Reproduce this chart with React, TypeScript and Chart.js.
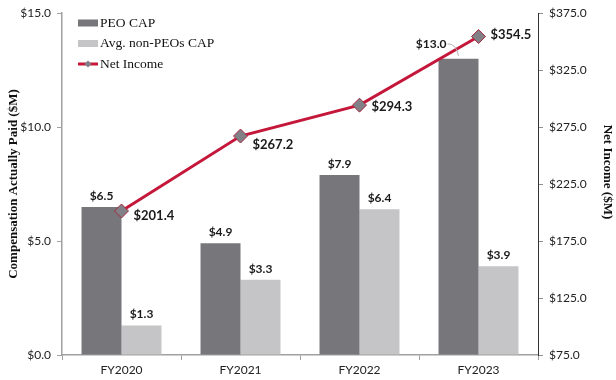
import React, { useEffect, useRef } from "react";
import { Chart, registerables } from "chart.js";

Chart.register(...registerables);

const categories = ["FY2020", "FY2021", "FY2022", "FY2023"];
const peoCap = [6.5, 4.9, 7.9, 13.0];
const nonPeoCap = [1.3, 3.3, 6.4, 3.9];
const netIncome = [201.4, 267.2, 294.3, 354.5];
const leftAxis = { min: 0, max: 15, step: 5 };
const rightAxis = { min: 75, max: 375, step: 50 };

const PEO_COLOR = "#77777b";
const NONPEO_COLOR = "#c5c5c7";
const LINE_COLOR = "#c4173a";
const MARKER_COLOR = "#808086";
const TICK_FONT = "Lato, 'Open Sans', sans-serif";
const SERIF = "'Liberation Serif', 'Times New Roman', serif";

const lineLabelDy = [5, 9, 2, -2];

const annotatePlugin = {
  id: "annotate",
  afterDatasetsDraw(chart: any) {
    const ctx = chart.ctx;
    ctx.save();
    ctx.textBaseline = "middle";
    ctx.fillStyle = "#1a1a1a";
    [0, 1].forEach((di) => {
      const meta = chart.getDatasetMeta(di);
      const vals = chart.data.datasets[di].data as number[];
      meta.data.forEach((el: any, i: number) => {
        const text = "$" + vals[i].toFixed(1);
        ctx.font = `bold 12px ${TICK_FONT}`;
        if (di === 0 && i === 3) {
          ctx.textAlign = "right";
          ctx.fillText(text, el.x - 12, el.y - 15);
          ctx.strokeStyle = "#b0b0b0";
          ctx.lineWidth = 1;
          ctx.beginPath();
          ctx.moveTo(el.x - 11, el.y - 15);
          ctx.quadraticCurveTo(el.x - 2, el.y - 15, el.x, el.y - 3);
          ctx.stroke();
        } else {
          ctx.textAlign = "center";
          ctx.fillText(text, el.x, el.y - 11);
        }
      });
    });
    const lmeta = chart.getDatasetMeta(2);
    const lvals = chart.data.datasets[2].data as number[];
    lmeta.data.forEach((el: any, i: number) => {
      ctx.font = `bold 13px ${TICK_FONT}`;
      ctx.textAlign = "left";
      ctx.fillText("$" + lvals[i].toFixed(1), el.x + 12, el.y + lineLabelDy[i]);
    });
    ctx.restore();
  },
  afterDraw(chart: any) {
    const ctx = chart.ctx;
    ctx.save();
    const lx = 78;
    const rows = [23, 43.5, 64];
    ctx.font = `13.5px ${SERIF}`;
    ctx.textBaseline = "middle";
    ctx.textAlign = "left";
    ctx.fillStyle = PEO_COLOR;
    ctx.fillRect(lx, rows[0] - 3.5, 20, 7);
    ctx.fillStyle = NONPEO_COLOR;
    ctx.fillRect(lx, rows[1] - 3.5, 20, 7);
    ctx.strokeStyle = LINE_COLOR;
    ctx.lineWidth = 3;
    ctx.beginPath();
    ctx.moveTo(lx, rows[2]);
    ctx.lineTo(lx + 20, rows[2]);
    ctx.stroke();
    ctx.fillStyle = MARKER_COLOR;
    ctx.beginPath();
    ctx.moveTo(lx + 10, rows[2] - 3.5);
    ctx.lineTo(lx + 13.5, rows[2]);
    ctx.lineTo(lx + 10, rows[2] + 3.5);
    ctx.lineTo(lx + 6.5, rows[2]);
    ctx.closePath();
    ctx.fill();
    ctx.fillStyle = "#111";
    ctx.fillText("PEO CAP", lx + 22, rows[0]);
    ctx.fillText("Avg. non-PEOs CAP", lx + 22, rows[1]);
    ctx.fillText("Net Income", lx + 22, rows[2]);

    ctx.font = `bold 13px ${SERIF}`;
    ctx.textAlign = "center";
    ctx.fillStyle = "#111";
    ctx.save();
    ctx.translate(14, 184);
    ctx.rotate(-Math.PI / 2);
    ctx.fillText("Compensation Actually Paid ($M)", 0, 0);
    ctx.restore();
    ctx.save();
    ctx.translate(607, 172);
    ctx.rotate(Math.PI / 2);
    ctx.fillText("Net Income ($M)", 0, 0);
    ctx.restore();
    ctx.restore();
  },
};

export default function App() {
  const ref = useRef<HTMLCanvasElement>(null);
  useEffect(() => {
    if (!ref.current) return;
    const chart = new Chart(ref.current, {
      type: "bar",
      data: {
        labels: categories,
        datasets: [
          {
            type: "bar",
            label: "PEO CAP",
            data: peoCap,
            backgroundColor: PEO_COLOR,
            yAxisID: "y",
            order: 1,
            categoryPercentage: 0.672,
            barPercentage: 1.0,
          },
          {
            type: "bar",
            label: "Avg. non-PEOs CAP",
            data: nonPeoCap,
            backgroundColor: NONPEO_COLOR,
            yAxisID: "y",
            order: 1,
            categoryPercentage: 0.672,
            barPercentage: 1.0,
          },
          {
            type: "line",
            label: "Net Income",
            data: netIncome,
            borderColor: LINE_COLOR,
            borderWidth: 3,
            pointStyle: "rectRot",
            pointRadius: 7,
            pointBackgroundColor: MARKER_COLOR,
            pointBorderColor: "#a8283f",
            pointBorderWidth: 1,
            yAxisID: "y1",
            order: 0,
            tension: 0,
          } as any,
        ],
      },
      options: {
        responsive: false,
        animation: false,
        devicePixelRatio: 1,
        layout: { padding: { top: 11, left: 0, right: 0, bottom: 0 } },
        plugins: { legend: { display: false }, tooltip: { enabled: false } },
        scales: {
          x: {
            grid: { display: true, drawOnChartArea: false, drawTicks: true, tickLength: 5, color: "#a0a0a0", offset: true },
            border: { display: true, color: "#a0a0a0", width: 1.5 },
            ticks: { color: "#222", font: { family: TICK_FONT, size: 12 }, padding: 3 },
            afterFit: (s: any) => { s.height = 25; },
          },
          y: {
            position: "left",
            min: leftAxis.min,
            max: leftAxis.max,
            ticks: {
              stepSize: leftAxis.step,
              color: "#222",
              font: { family: TICK_FONT, size: 12 },
              padding: 6,
              callback: (v: any) => "$" + Number(v).toFixed(1),
            },
            grid: { display: true, drawOnChartArea: false, drawTicks: true, tickLength: 5, color: "#a0a0a0" },
            border: { display: true, color: "#a0a0a0", width: 1.5 },
            afterFit: (s: any) => { s.width = 62; },
          },
          y1: {
            position: "right",
            min: rightAxis.min,
            max: rightAxis.max,
            ticks: {
              stepSize: rightAxis.step,
              color: "#222",
              font: { family: TICK_FONT, size: 12 },
              padding: 6,
              callback: (v: any) => "$" + Number(v).toFixed(1),
            },
            grid: { display: true, drawOnChartArea: false, drawTicks: true, tickLength: 5, color: "#909090" },
            border: { display: true, color: "#333", width: 1 },
            afterFit: (s: any) => { s.width = 78; },
          },
        },
      },
      plugins: [annotatePlugin],
    });
    return () => chart.destroy();
  }, []);
  return (
    <div style={{ position: "fixed", left: 0, top: 0, width: 616, height: 380, background: "#fff" }}>
      <canvas ref={ref} width={616} height={380} style={{ display: "block" }} />
    </div>
  );
}
